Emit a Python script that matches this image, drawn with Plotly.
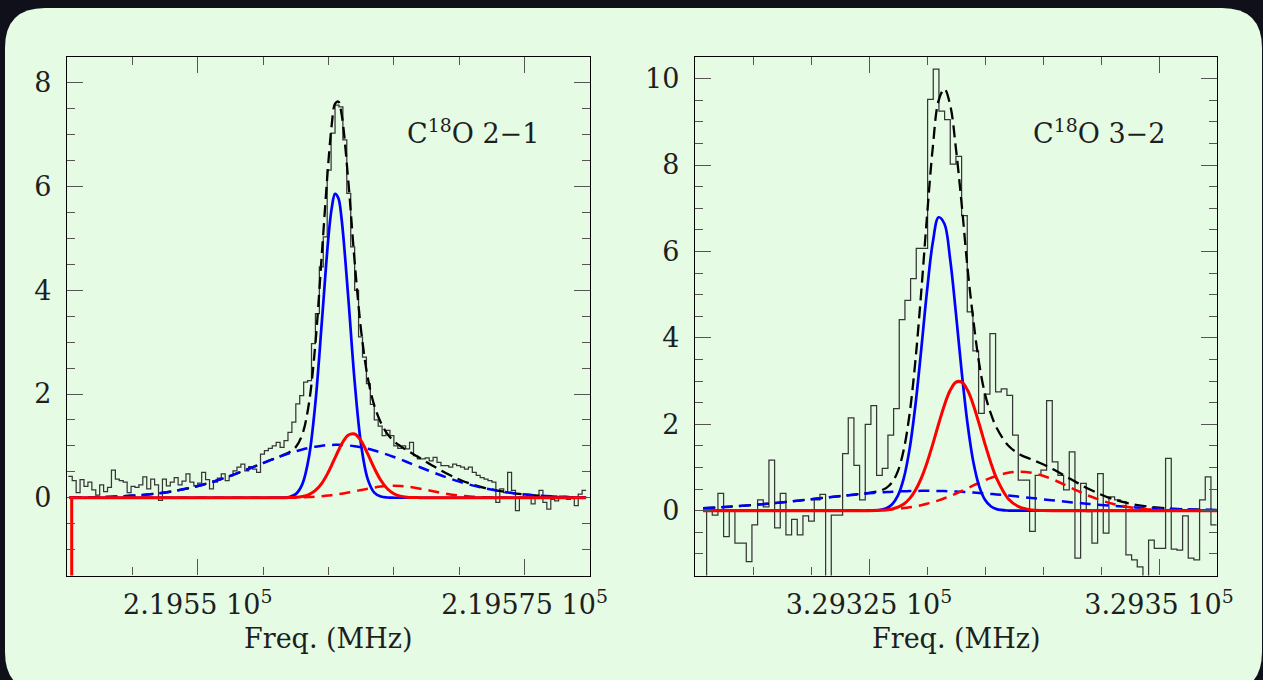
import numpy as np
import plotly.graph_objects as go

# ---------------- data ----------------
# Left panel: C18O 2-1 spectrum (channel values, K)
left_chan_start = 219540.10   # left edge of first channel (MHz)
left_chan_width = 0.30        # MHz
left_hist = [
    0.41, 0.33, 0.10, 0.35, 0.22, 0.30, 0.15, 0.05, 0.25, 0.12,
    0.20, 0.53, 0.36, 0.33, 0.30, 0.10, 0.22, 0.20, 0.25, 0.40,
    0.17, 0.36, 0.25, -0.05, 0.36, 0.23, 0.30, 0.39, 0.25, 0.32,
    0.46, 0.30, 0.23, 0.28, 0.49, 0.35, 0.17, 0.30, 0.38, 0.46,
    0.33, 0.42, 0.52, 0.59, 0.65, 0.52, 0.60, 0.55, 0.49, 0.84,
    0.91, 0.95, 1.00, 1.07, 0.97, 1.10, 1.26, 1.46, 1.81, 1.97,
    2.23, 2.26, 2.97, 3.55, 4.45, 5.03, 6.32, 7.03, 7.57, 7.54,
    6.90, 5.87, 4.84, 4.00, 3.10, 2.71, 2.20, 1.80, 1.50, 1.38,
    1.20, 1.30, 1.20, 1.00, 0.95, 1.00, 0.94, 1.07, 0.81, 0.75,
    0.75, 0.77, 0.71, 0.78, 0.68, 0.62, 0.62, 0.59, 0.65, 0.62,
    0.59, 0.55, 0.59, 0.49, 0.43, 0.39, 0.36, 0.33, 0.30, -0.09,
    0.17, 0.10, 0.49, 0.14, -0.25, 0.00, 0.07, 0.04, -0.12, 0.02,
    0.14, -0.09, -0.22, -0.03, -0.06, 0.02, -0.01, -0.03, 0.00, -0.15,
    0.07, 0.14,
]

# Left panel fitted components, sampled at these frequencies
left_fit_x = [
    219540.2, 219542.0, 219544.0, 219546.0, 219548.0, 219550.0, 219552.0,
    219553.0, 219554.0, 219555.0, 219555.5, 219556.0, 219556.5, 219557.0,
    219557.5, 219558.0, 219558.5, 219559.0, 219559.5, 219560.0, 219560.25,
    219560.5, 219560.75, 219561.0, 219561.5, 219562.0, 219562.5, 219563.0,
    219563.5, 219564.0, 219564.5, 219565.0, 219565.5, 219566.0, 219567.0,
    219568.0, 219569.0, 219570.0, 219571.0, 219572.0, 219574.0, 219576.0,
    219578.0, 219579.7,
]
left_blue = [
    0, 0, 0, 0, 0, 0, 0, 0, 0, 0, 0,
    0.0, 0.002, 0.014, 0.069, 0.262, 0.779, 1.837, 3.42, 5.04, 5.59, 5.86,
    5.78, 5.38, 3.90, 2.24, 1.01, 0.36, 0.10, 0.023, 0.004, 0.0, 0.0,
    0, 0, 0, 0, 0, 0, 0, 0, 0, 0, 0,
]
left_blue_wide = [
    0.004, 0.010, 0.025, 0.058, 0.121, 0.225, 0.377, 0.470, 0.568, 0.669, 0.719,
    0.768, 0.814, 0.857, 0.896, 0.931, 0.961, 0.985, 1.004, 1.015, 1.018, 1.020,
    1.020, 1.018, 1.009, 0.993, 0.972, 0.944, 0.911, 0.873, 0.831, 0.786, 0.739,
    0.689, 0.588, 0.489, 0.395, 0.311, 0.238, 0.178, 0.091, 0.042, 0.017, 0.008,
]
left_red = [
    0, 0, 0, 0, 0, 0, 0, 0, 0, 0, 0,
    0.0, 0.001, 0.002, 0.007, 0.023, 0.060, 0.140, 0.283, 0.500, 0.631, 0.769,
    0.906, 1.031, 1.205, 1.229, 1.092, 0.846, 0.572, 0.337, 0.173, 0.077, 0.030,
    0.010, 0.001, 0, 0, 0, 0, 0, 0, 0, 0, 0,
]
left_red_wide = [
    0, 0, 0, 0, 0, 0, 0, 0, 0, 0.0, 0.001,
    0.001, 0.002, 0.003, 0.005, 0.008, 0.013, 0.020, 0.029, 0.041, 0.049, 0.057,
    0.067, 0.077, 0.099, 0.124, 0.150, 0.175, 0.197, 0.215, 0.226, 0.230, 0.226,
    0.215, 0.175, 0.124, 0.077, 0.041, 0.020, 0.008, 0.001, 0, 0, 0,
]
left_total = [
    0.004, 0.010, 0.025, 0.058, 0.121, 0.225, 0.377, 0.470, 0.568, 0.669, 0.720,
    0.769, 0.818, 0.876, 0.977, 1.224, 1.813, 2.982, 4.736, 6.50, 7.20, 7.60,
    7.64, 7.40, 6.15, 4.55, 3.21, 2.32, 1.78, 1.45, 1.23, 1.09, 0.995,
    0.914, 0.764, 0.613, 0.472, 0.352, 0.258, 0.186, 0.092, 0.042, 0.017, 0.008,
]
# red fit curve starts with a vertical stroke from below the frame
left_red_edge_x = [219540.36, 219540.36]
left_red_edge_y = [-2.0, 0.0]

# Right panel: C18O 3-2 spectrum
right_chan_start = 329311.00
right_chan_width = 0.4885
right_hist = [
    0.05, -0.10, 0.40, -0.60, 0.00, -0.75, -0.75, -1.18, -0.33, 0.25,
    0.09, 1.17, -0.40, 0.40, -0.56, -0.20, -0.56, -0.12, -0.24, 0.25,
    0.38, -2.00, -0.10, -0.10, 1.32, 2.15, 1.05, 0.25, 2.00, 2.43,
    0.82, 0.98, 1.75, 2.36, 4.42, 4.87, 5.37, 6.07, 6.07, 9.52,
    10.22, 9.25, 9.05, 8.02, 8.20, 6.83, 4.60, 3.70, 2.25, 2.70,
    4.10, 2.75, 2.82, 2.67, 1.75, 0.71, 0.71, -0.48, 0.82, 0.94,
    2.55, 1.13, 0.82, 0.48, 1.36, -1.10, 0.63, -0.02, -0.75, 0.86,
    -0.52, 0.32, 0.25, 0.21, -1.02, -1.14, -1.30, -2.00, -0.68, -0.87,
    -0.87, 1.21, -0.89, -0.91, -0.12, -1.10, -1.14, 0.25, 0.78, -0.33,
]
right_hist_lead = -3.0   # spectrum begins with a stroke from below the frame

right_fit_x = [
    329310.7, 329313.0, 329316.0, 329319.0, 329322.0, 329324.0, 329325.0,
    329326.0, 329326.5, 329327.0, 329327.5, 329328.0, 329328.5, 329329.0,
    329329.5, 329330.0, 329330.5, 329331.0, 329331.5, 329332.0, 329332.5,
    329333.0, 329333.5, 329334.0, 329334.5, 329335.0, 329335.5, 329336.0,
    329337.0, 329338.0, 329339.0, 329340.0, 329341.0, 329342.0, 329343.0,
    329344.0, 329346.0, 329348.0, 329350.0, 329352.0, 329355.0,
]
right_blue = [
    0, 0, 0, 0, 0, 0, 0,
    0.019, 0.056, 0.149, 0.353, 0.752, 1.43, 2.44, 3.72, 5.08, 6.21, 6.79,
    6.64, 5.81, 4.55, 3.19, 2.00, 1.12, 0.563, 0.253, 0.102, 0.037,
    0.003, 0, 0, 0, 0, 0, 0, 0, 0, 0, 0, 0, 0,
]
right_blue_wide = [
    0.058, 0.093, 0.155, 0.235, 0.323, 0.377, 0.401,
    0.421, 0.430, 0.438, 0.444, 0.450, 0.454, 0.457, 0.459, 0.460, 0.459, 0.457,
    0.454, 0.450, 0.444, 0.438, 0.430, 0.421, 0.411, 0.401, 0.389, 0.377,
    0.351, 0.323, 0.294, 0.264, 0.235, 0.207, 0.180, 0.155, 0.111, 0.076, 0.050, 0.032, 0.014,
]
right_red = [
    0, 0, 0, 0, 0, 0, 0.001,
    0.008, 0.018, 0.039, 0.080, 0.154, 0.279, 0.472, 0.748, 1.110, 1.542, 2.006,
    2.442, 2.786, 2.975, 2.975, 2.786, 2.442, 2.006, 1.542, 1.110, 0.748,
    0.279, 0.080, 0.018, 0.003, 0, 0, 0, 0, 0, 0, 0, 0, 0,
]
right_red_wide = [
    0, 0, 0, 0, 0.001, 0.005, 0.009,
    0.018, 0.025, 0.034, 0.046, 0.060, 0.078, 0.101, 0.128, 0.159, 0.197, 0.239,
    0.287, 0.340, 0.397, 0.458, 0.520, 0.584, 0.646, 0.706, 0.760, 0.808,
    0.876, 0.900, 0.876, 0.808, 0.706, 0.584, 0.458, 0.340, 0.159, 0.060, 0.018, 0.005, 0.0,
]
right_total = [
    0.058, 0.093, 0.155, 0.235, 0.324, 0.382, 0.411,
    0.466, 0.529, 0.660, 0.923, 1.416, 2.241, 3.470, 5.055, 6.809, 8.408, 9.492,
    9.76, 9.386, 8.366, 7.061, 5.60, 4.40, 3.40, 2.70, 2.25, 1.92,
    1.509, 1.303, 1.188, 1.075, 0.941, 0.791, 0.638, 0.495, 0.270, 0.136, 0.068, 0.037, 0.014,
]

# axis tick labels
left_tickvals = [219550, 219575]
left_ticktext = ["2.1955 10<sup>5</sup>", "2.19575 10<sup>5</sup>"]
left_minor = [219545, 219555, 219560, 219565, 219570]
right_tickvals = [329325, 329350]
right_ticktext = ["3.29325 10<sup>5</sup>", "3.2935 10<sup>5</sup>"]
right_minor = [329315, 329320, 329330, 329335, 329340, 329345]
titles = ["C<sup>18</sup>O 2\u22121", "C<sup>18</sup>O 3\u22122"]
xlabel = "Freq. (MHz)"

# ---------------- figure ----------------
W, H = 1263, 680
FONT = "DejaVu Serif"
HIST_C = "#363636"
BLUE = "#0000ff"
RED = "#ff0000"


def fx(p):
    return p / W


def fy(p):
    return 1 - p / H


def step_xy(start, width, vals, lead=None):
    edges = start + width * np.arange(len(vals) + 1)
    xs = list(edges[:-1]) + [edges[-1]]
    ys = list(vals) + [vals[-1]]
    if lead is not None:
        xs = [edges[0]] + xs
        ys = [lead] + ys
    return xs, ys


fig = go.Figure()


def add_panel(xa, ya, hx, hy, fitx, tot, bw, rw, b, r, extra=None):
    fig.add_trace(go.Scatter(x=hx, y=hy, mode="lines", line=dict(color=HIST_C, width=1.25, shape="hv"),
                             xaxis=xa, yaxis=ya, showlegend=False, hoverinfo="skip"))
    fig.add_trace(go.Scatter(x=fitx, y=tot, mode="lines",
                             line=dict(color="black", width=2.3, dash="12px,6px", shape="spline"),
                             xaxis=xa, yaxis=ya, showlegend=False, hoverinfo="skip"))
    fig.add_trace(go.Scatter(x=fitx, y=bw, mode="lines",
                             line=dict(color=BLUE, width=2.5, dash="11px,7px", shape="spline"),
                             xaxis=xa, yaxis=ya, showlegend=False, hoverinfo="skip"))
    fig.add_trace(go.Scatter(x=fitx, y=rw, mode="lines",
                             line=dict(color=RED, width=2.5, dash="11px,7px", shape="spline"),
                             xaxis=xa, yaxis=ya, showlegend=False, hoverinfo="skip"))
    fig.add_trace(go.Scatter(x=fitx, y=b, mode="lines",
                             line=dict(color=BLUE, width=2.7, shape="spline"),
                             xaxis=xa, yaxis=ya, showlegend=False, hoverinfo="skip"))
    if extra is not None:
        fig.add_trace(go.Scatter(x=extra[0], y=extra[1], mode="lines",
                                 line=dict(color=RED, width=3.0),
                                 xaxis=xa, yaxis=ya, showlegend=False, hoverinfo="skip"))
    fig.add_trace(go.Scatter(x=fitx, y=r, mode="lines",
                             line=dict(color=RED, width=3.0, shape="spline"),
                             xaxis=xa, yaxis=ya, showlegend=False, hoverinfo="skip"))


lhx, lhy = step_xy(left_chan_start, left_chan_width, left_hist)
rhx, rhy = step_xy(right_chan_start, right_chan_width, right_hist, lead=right_hist_lead)

add_panel("x", "y", lhx, lhy, left_fit_x, left_total, left_blue_wide, left_red_wide,
          left_blue, left_red, extra=(left_red_edge_x, left_red_edge_y))
add_panel("x2", "y2", rhx, rhy, right_fit_x, right_total, right_blue_wide, right_red_wide,
          right_blue, right_red)

FS = 27
tickfont = dict(family=FONT, size=FS, color="#1e1e1e")
common_axis = dict(showline=True, linecolor="black", linewidth=1.3, mirror="allticks",
                   ticks="inside", ticklen=16, tickwidth=1.2, tickcolor="#555555",
                   showgrid=False, zeroline=False, tickfont=tickfont, automargin=False)

ydom = [fy(575.5), fy(57)]
fig.update_layout(
    width=W, height=H, autosize=False, margin=dict(l=0, r=0, t=0, b=0, pad=0),
    paper_bgcolor="#10101a", plot_bgcolor="rgba(0,0,0,0)",
    xaxis=dict(domain=[fx(67), fx(590)], range=[219540, 219580], anchor="y",
               tickmode="array", tickvals=left_tickvals, ticktext=left_ticktext,
               minor=dict(tickmode="array", tickvals=left_minor, ticks="inside", ticklen=8,
                          tickwidth=1.2, tickcolor="#555555", showgrid=False),
               ticklabelstandoff=5, **common_axis),
    yaxis=dict(domain=ydom, range=[-1.5, 8.5], anchor="x",
               tickmode="linear", tick0=0, dtick=2,
               minor=dict(tickmode="linear", tick0=0, dtick=0.5, ticks="inside", ticklen=8,
                          tickwidth=1.2, tickcolor="#555555", showgrid=False),
               ticklabelstandoff=9, **common_axis),
    xaxis2=dict(domain=[fx(695), fx(1217)], range=[329310, 329355], anchor="y2",
                tickmode="array", tickvals=right_tickvals, ticktext=right_ticktext,
                minor=dict(tickmode="array", tickvals=right_minor, ticks="inside", ticklen=8,
                           tickwidth=1.2, tickcolor="#555555", showgrid=False),
                ticklabelstandoff=5, **common_axis),
    yaxis2=dict(domain=ydom, range=[-1.5, 10.5], anchor="x2",
                tickmode="linear", tick0=0, dtick=2,
                minor=dict(tickmode="linear", tick0=0, dtick=0.5, ticks="inside", ticklen=8,
                           tickwidth=1.2, tickcolor="#555555", showgrid=False),
                ticklabelstandoff=9, **common_axis),
)

# rounded light-green panel
x0, x1, y0, y1, rad = 5, 1262, 8, 692, 40
pts = [
    ("M", x0 + rad, y0), ("L", x1 - rad, y0), ("Q", x1, y0, x1, y0 + rad),
    ("L", x1, y1 - rad), ("Q", x1, y1, x1 - rad, y1), ("L", x0 + rad, y1),
    ("Q", x0, y1, x0, y1 - rad), ("L", x0, y0 + rad), ("Q", x0, y0, x0 + rad, y0),
]
path = ""
for p in pts:
    cmd = p[0]
    coords = p[1:]
    s = []
    for i in range(0, len(coords), 2):
        s.append(f"{fx(coords[i]):.5f},{fy(coords[i + 1]):.5f}")
    path += cmd + " " + " ".join(s) + " "
path += "Z"
fig.add_shape(type="path", path=path, xref="paper", yref="paper", layer="below",
              fillcolor="#e5fbe4", line=dict(width=0))

labfont = dict(family=FONT, size=FS, color="#1e1e1e")
fig.add_annotation(text=xlabel, x=fx(328.5), y=fy(638), xref="paper", yref="paper",
                   xanchor="center", yanchor="middle", showarrow=False, font=labfont)
fig.add_annotation(text=xlabel, x=fx(956), y=fy(638), xref="paper", yref="paper",
                   xanchor="center", yanchor="middle", showarrow=False, font=labfont)
fig.add_annotation(text=titles[0], x=fx(405), y=fy(131), xref="paper", yref="paper",
                   xanchor="left", yanchor="middle", showarrow=False, font=labfont)
fig.add_annotation(text=titles[1], x=fx(1031), y=fy(131), xref="paper", yref="paper",
                   xanchor="left", yanchor="middle", showarrow=False, font=labfont)

fig.write_html("out.html", config={"responsive": False})
